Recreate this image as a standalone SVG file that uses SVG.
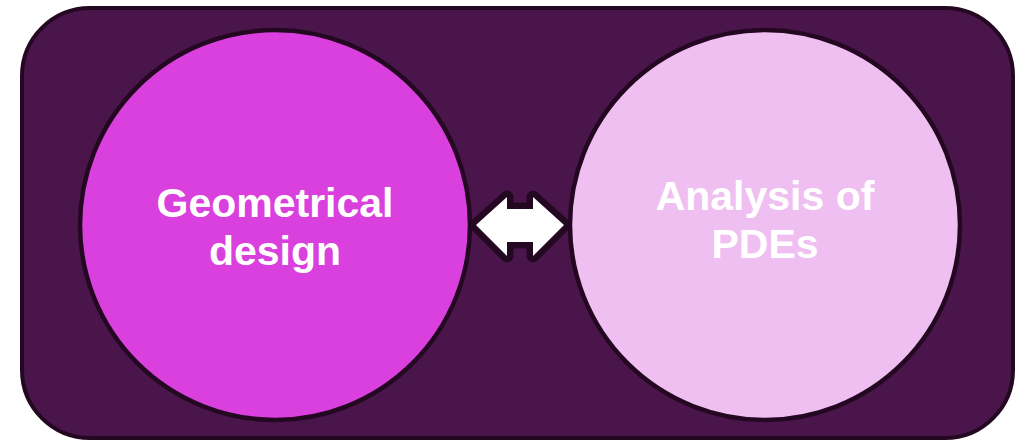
<svg xmlns="http://www.w3.org/2000/svg" width="1025" height="443" viewBox="0 0 1025 443">
  <style>
    .frame { fill: #4a154b; stroke: #240822; stroke-width: 4; }
    .node { stroke: #240822; stroke-width: 4.5; }
    .label { font-family: "Liberation Sans", Arial, sans-serif; font-weight: bold; font-size: 41px; fill: #ffffff; text-anchor: middle; }
    .link { fill: #ffffff; stroke: #240822; stroke-width: 13; stroke-linejoin: round; paint-order: stroke; }
  </style>
  <rect class="frame" x="22" y="8" width="991" height="430" rx="68" ry="68"/>
  <g id="geometrical-design">
    <circle class="node" cx="275" cy="225" r="195" fill="#d940dd"/>
    <text class="label" x="275" y="217">Geometrical</text>
    <text class="label" x="275" y="265">design</text>
  </g>
  <g id="analysis-of-pdes">
    <circle class="node" cx="765" cy="225" r="195" fill="#f0bff2"/>
    <text class="label" x="765" y="210">Analysis of</text>
    <text class="label" x="765" y="258">PDEs</text>
  </g>
  <g id="connectors">
    <polygon class="link" points="476,225 507,197 507,209 533,209 533,197 564,225 533,256 533,242 507,242 507,256"/>
  </g>
</svg>
